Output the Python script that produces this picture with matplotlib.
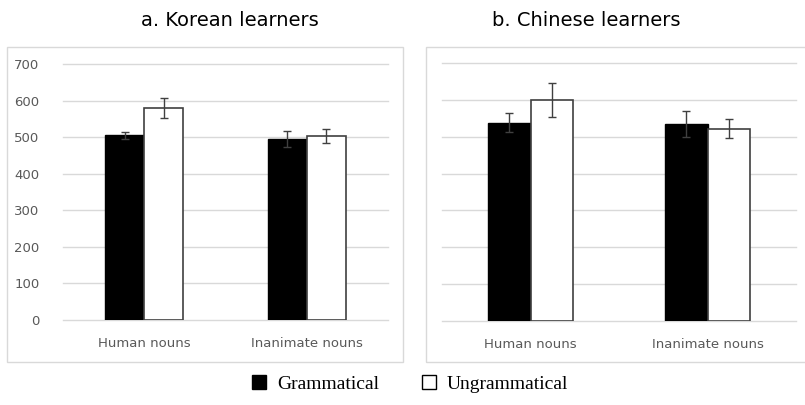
import numpy as np
import matplotlib
matplotlib.use('Agg')
import matplotlib.pyplot as plt
from matplotlib.patches import Rectangle, Patch

# data
categories = ['Human nouns', 'Inanimate nouns']
series = ['Grammatical', 'Ungrammatical']

korean_gram = [505, 495]
korean_ungram = [579, 503]
korean_gram_err = [10, 22]
korean_ungram_err = [27, 20]

chinese_gram = [538, 535]
chinese_ungram = [600, 522]
chinese_gram_err = [26, 35]
chinese_ungram_err = [47, 26]

titles = ['a. Korean learners', 'b. Chinese learners']
yticks = [0, 100, 200, 300, 400, 500, 600, 700]

W, H = 805, 405
GRID = '#d9d9d9'
ERR = '#404040'
TICK = '#595959'


def fx(px):
    return px / W


def fy(py):
    return 1 - py / H


def draw_panel(ax, gram, ungram, gram_err, ungram_err, show_y):
    """draws one panel of grouped bars with error bars"""
    x = np.arange(len(categories))
    w = 0.24
    ax.bar(x - w / 2, gram, w, color='black', edgecolor='black', linewidth=1, zorder=3)
    ax.bar(x + w / 2, ungram, w, color='white', edgecolor='#404040', linewidth=1.2, zorder=3)
    ax.errorbar(x - w / 2, gram, yerr=gram_err, fmt='none', ecolor=ERR,
                elinewidth=1, capsize=2.6, capthick=1, zorder=4)
    ax.errorbar(x + w / 2, ungram, yerr=ungram_err, fmt='none', ecolor=ERR,
                elinewidth=1, capsize=2.6, capthick=1, zorder=4)
    ax.set_xlim(-0.5, 1.5)
    ax.set_ylim(0, 700)
    ax.set_yticks(yticks)
    ax.set_xticks(x)
    ax.set_xticklabels(categories)
    ax.grid(axis='y', color=GRID, linewidth=1, zorder=0)
    # keep the 0 and 700 lines whole
    for gl in ax.get_ygridlines():
        gl.set_clip_on(False)
    for s in ax.spines.values():
        s.set_visible(False)
    ax.tick_params(axis='both', length=0, colors=TICK, labelsize=9.5)
    ax.tick_params(axis='x', pad=12)
    ax.tick_params(axis='y', pad=17)
    if not show_y:
        ax.set_yticklabels([])


fig = plt.figure(figsize=(8.05, 4.05), dpi=100)

# outer frames round each panel
fig.patches.append(Rectangle((fx(7), fy(362)), fx(403) - fx(7), fy(47) - fy(362),
                             transform=fig.transFigure, fill=False,
                             edgecolor=GRID, linewidth=1))
fig.patches.append(Rectangle((fx(426), fy(362)), fx(806) - fx(426), fy(47) - fy(362),
                             transform=fig.transFigure, fill=False,
                             edgecolor=GRID, linewidth=1))

ax1 = fig.add_axes([fx(63), fy(320), fx(388) - fx(63), fy(64) - fy(320)])
ax2 = fig.add_axes([fx(442), fy(321), fx(796) - fx(442), fy(63) - fy(321)])

draw_panel(ax1, korean_gram, korean_ungram, korean_gram_err, korean_ungram_err, True)
draw_panel(ax2, chinese_gram, chinese_ungram, chinese_gram_err, chinese_ungram_err, False)

fig.text(fx(230), fy(20), titles[0], ha='center', va='center', fontsize=14, color='black')
fig.text(fx(586), fy(20), titles[1], ha='center', va='center', fontsize=14, color='black')

handles = [Patch(facecolor='black', edgecolor='black', linewidth=1),
           Patch(facecolor='white', edgecolor='black', linewidth=1)]
fig.legend(handles, series, loc='center', bbox_to_anchor=(fx(410), fy(384)),
           ncol=2, frameon=False, handlelength=0.75, handleheight=0.75,
           handletextpad=0.55, columnspacing=2.2,
           prop={'family': 'Liberation Serif', 'size': 14})

fig.savefig('out.png', dpi=100)
